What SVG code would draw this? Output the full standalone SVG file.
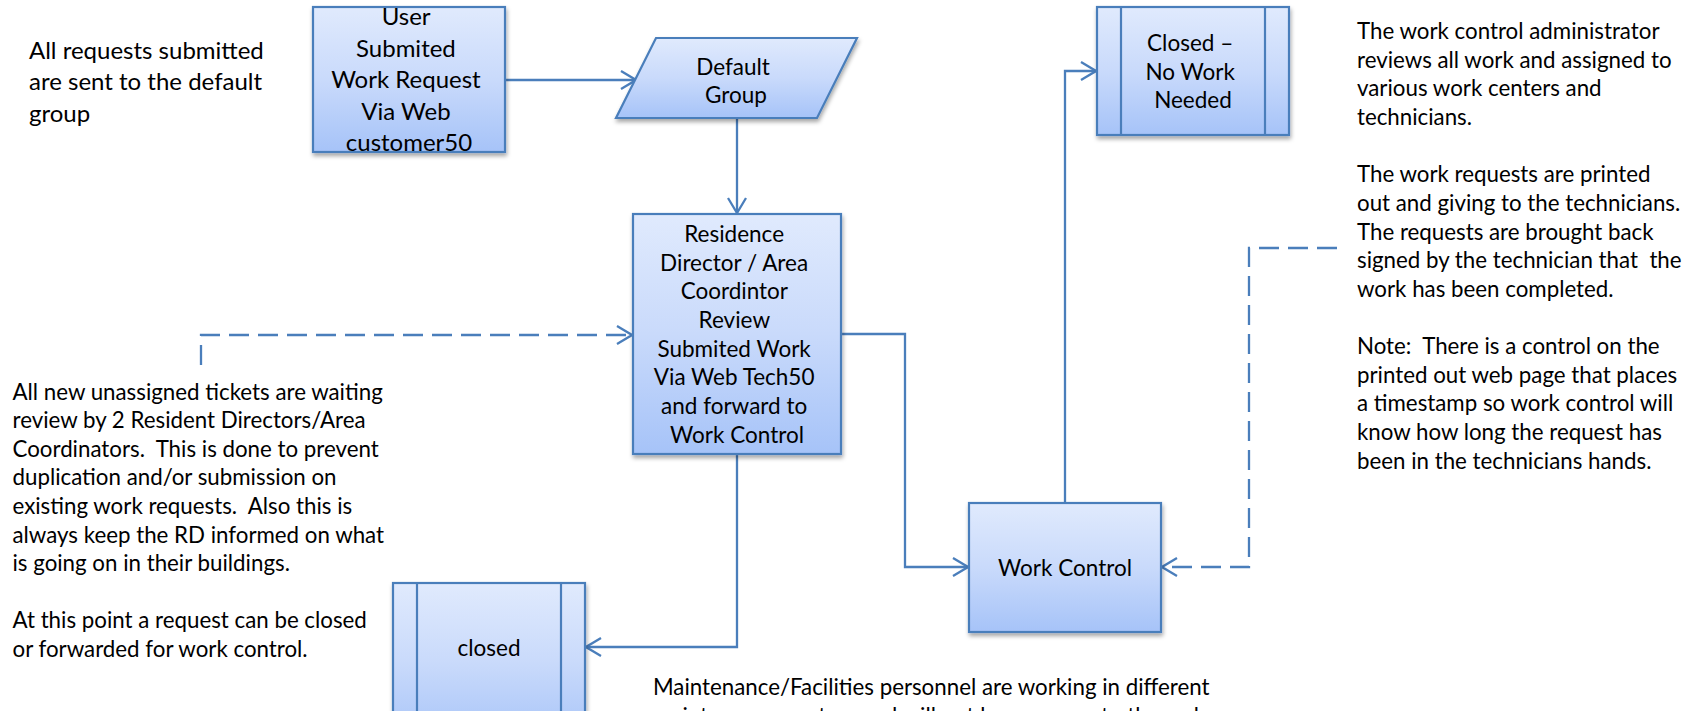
<svg xmlns="http://www.w3.org/2000/svg" width="1695" height="711" viewBox="0 0 1695 711">
  <style>
    .txt { font-family: Lato, "Liberation Sans", sans-serif; fill: #000; }
    .box { fill: url(#boxFill); stroke: #4a7ebb; stroke-width: 2.2; filter: url(#shadow); }
    .bar { fill: none; stroke: #4a7ebb; stroke-width: 2.2; }
    .lbl { font-size: 22.5px; text-anchor: middle; }
    .note { font-size: 22.3px; }
    .conn { fill: none; stroke: #4a7ebb; stroke-width: 2.3; marker-end: url(#arrow); }
    .dash { stroke-dasharray: 20 9; }
  </style>
  <defs>
    <linearGradient id="boxFill" x1="0" y1="0" x2="0" y2="1">
      <stop offset="0" stop-color="#e0eafd"/>
      <stop offset="0.5" stop-color="#c9dafb"/>
      <stop offset="1" stop-color="#a6c3f8"/>
    </linearGradient>
    <filter id="shadow" x="-10%" y="-10%" width="130%" height="130%">
      <feDropShadow dx="1" dy="3" stdDeviation="2" flood-color="#000" flood-opacity="0.35"/>
    </filter>
    <marker id="arrow" markerUnits="userSpaceOnUse" viewBox="-17 -11 19 22" refX="0" refY="0" markerWidth="19" markerHeight="22" orient="auto">
      <path d="M-15,-9 L0,0 L-15,9" fill="none" stroke="#4a7ebb" stroke-width="2.3"/>
    </marker>
  </defs>

  <rect width="1695" height="711" fill="#fff"/>

  <!-- connectors -->
  <g id="connectors">
    <path class="conn" d="M505,80 H636"/>
    <path class="conn" d="M737,118 V213"/>
    <path class="conn" d="M841,334 H905 V567 H968"/>
    <path class="conn" d="M737,454 V647 H586"/>
    <path class="conn" d="M1065,503 V71 H1096"/>
    <path class="conn dash" d="M201,365 V335 H632"/>
    <path class="conn dash" d="M1337,248 H1249 V567 H1162"/>
  </g>

  <!-- process nodes -->
  <g id="user-request">
    <rect class="box" x="313" y="7" width="192" height="145"/>
    <text class="txt lbl" style="font-size:24px" x="409">
      <tspan x="409" y="25">User</tspan>
      <tspan x="409" y="56.5">Submited</tspan>
      <tspan x="409" y="88">Work Request</tspan>
      <tspan x="409" y="119.5">Via Web</tspan>
      <tspan x="409" y="151">customer50</tspan>
    </text>
  </g>

  <g id="default-group">
    <polygon class="box" points="656,38 857,38 817,118 616,118"/>
    <text class="txt lbl" x="736">
      <tspan x="736" y="75">Default</tspan>
      <tspan x="736" y="103">Group</tspan>
    </text>
  </g>

  <g id="rd-review">
    <rect class="box" x="633" y="214" width="208" height="240"/>
    <text class="txt lbl" x="737">
      <tspan x="737" y="242">Residence</tspan>
      <tspan x="737" y="270.7">Director / Area</tspan>
      <tspan x="737" y="299.4">Coordintor</tspan>
      <tspan x="737" y="328">Review</tspan>
      <tspan x="737" y="356.7">Submited Work</tspan>
      <tspan x="737" y="385.4">Via Web Tech50</tspan>
      <tspan x="737" y="414">and forward to</tspan>
      <tspan x="737" y="442.7">Work Control</tspan>
    </text>
  </g>

  <g id="work-control">
    <rect class="box" x="969" y="503" width="192" height="129"/>
    <text class="txt lbl" x="1065" y="576">Work Control</text>
  </g>

  <g id="closed-no-work">
    <rect class="box" x="1097" y="7" width="192" height="128"/>
    <line class="bar" x1="1121" y1="7" x2="1121" y2="135"/>
    <line class="bar" x1="1265" y1="7" x2="1265" y2="135"/>
    <text class="txt lbl" x="1193">
      <tspan x="1193" y="51">Closed –</tspan>
      <tspan x="1193" y="79.5">No Work</tspan>
      <tspan x="1193" y="108">Needed</tspan>
    </text>
  </g>

  <g id="closed">
    <rect class="box" x="393" y="583" width="192" height="160"/>
    <line class="bar" x1="417" y1="583" x2="417" y2="743"/>
    <line class="bar" x1="561" y1="583" x2="561" y2="743"/>
    <text class="txt lbl" x="489" y="656">closed</text>
  </g>

  <!-- annotations -->
  <g id="note-default">
    <text class="txt note" style="font-size:24px" x="29">
      <tspan x="29" y="58.5">All requests submitted</tspan>
      <tspan x="29" y="90">are sent to the default</tspan>
      <tspan x="29" y="121.5">group</tspan>
    </text>
  </g>

  <g id="note-review">
    <text class="txt note" x="12.5">
      <tspan x="12.5" y="399.5">All new unassigned tickets are waiting</tspan>
      <tspan x="12.5" y="428.1">review by 2 Resident Directors/Area</tspan>
      <tspan x="12.5" y="456.7">Coordinators.&#160; This is done to prevent</tspan>
      <tspan x="12.5" y="485.3">duplication and/or submission on</tspan>
      <tspan x="12.5" y="513.9">existing work requests.&#160; Also this is</tspan>
      <tspan x="12.5" y="542.5">always keep the RD informed on what</tspan>
      <tspan x="12.5" y="571.1">is going on in their buildings.</tspan>
      <tspan x="12.5" y="628.3">At this point a request can be closed</tspan>
      <tspan x="12.5" y="656.9">or forwarded for work control.</tspan>
    </text>
  </g>

  <g id="note-work-control">
    <text class="txt note" x="1357">
      <tspan x="1357" y="39">The work control administrator</tspan>
      <tspan x="1357" y="67.6">reviews all work and assigned to</tspan>
      <tspan x="1357" y="96.3">various work centers and</tspan>
      <tspan x="1357" y="125">technicians.</tspan>
      <tspan x="1357" y="182.2">The work requests are printed</tspan>
      <tspan x="1357" y="210.9">out and giving to the technicians.</tspan>
      <tspan x="1357" y="239.5">The requests are brought back</tspan>
      <tspan x="1357" y="268.2">signed by the technician that&#160; the</tspan>
      <tspan x="1357" y="296.8">work has been completed.</tspan>
      <tspan x="1357" y="354">Note:&#160; There is a control on the</tspan>
      <tspan x="1357" y="382.7">printed out web page that places</tspan>
      <tspan x="1357" y="411.3">a timestamp so work control will</tspan>
      <tspan x="1357" y="440">know how long the request has</tspan>
      <tspan x="1357" y="468.6">been in the technicians hands.</tspan>
    </text>
  </g>

  <g id="note-maintenance">
    <text class="txt note" x="653">
      <tspan x="653" y="695">Maintenance/Facilities personnel are working in different</tspan>
      <tspan x="653" y="723.6">maintenance centers and will not have access to the web</tspan>
    </text>
  </g>
</svg>
